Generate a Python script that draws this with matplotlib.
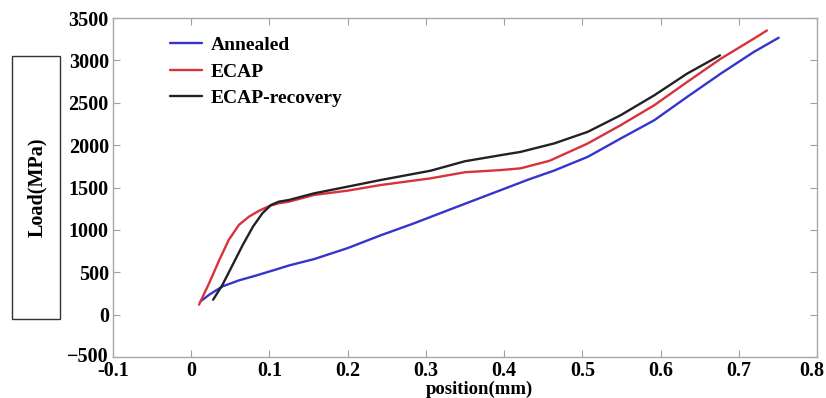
import matplotlib
matplotlib.use("Agg")
import matplotlib.pyplot as plt
import matplotlib.transforms as mtransforms
from matplotlib.patches import Rectangle

# ---- data ----
annealed_x = [0.012, 0.023, 0.040, 0.061, 0.082, 0.104, 0.125, 0.157, 0.200, 0.242, 0.285,
              0.332, 0.396, 0.430, 0.464, 0.507, 0.549, 0.592, 0.634, 0.677, 0.719, 0.751]
annealed_y = [157, 235, 333, 404, 459, 520, 580, 655, 785, 935, 1078,
              1245, 1470, 1590, 1700, 1862, 2078, 2294, 2569, 2844, 3098, 3267]

ecap_x = [0.010, 0.023, 0.036, 0.048, 0.061, 0.074, 0.087, 0.100, 0.112, 0.125, 0.157,
          0.200, 0.242, 0.306, 0.350, 0.396, 0.421, 0.458, 0.507, 0.549, 0.592, 0.634,
          0.677, 0.719, 0.736]
ecap_y = [118, 373, 647, 882, 1059, 1157, 1227, 1282, 1314, 1333, 1412,
          1463, 1529, 1608, 1680, 1706, 1726, 1815, 2020, 2235, 2471, 2745,
          3020, 3255, 3353]

rec_x = [0.028, 0.040, 0.053, 0.066, 0.079, 0.091, 0.102, 0.112, 0.125, 0.157, 0.200,
         0.242, 0.306, 0.350, 0.396, 0.421, 0.464, 0.507, 0.549, 0.592, 0.634, 0.676]
rec_y = [176, 353, 588, 824, 1039, 1196, 1294, 1333, 1353, 1431, 1510,
         1588, 1698, 1810, 1882, 1920, 2020, 2157, 2353, 2588, 2844, 3059]

series_labels = ["Annealed", "ECAP", "ECAP-recovery"]
x_ticks = [-0.1, 0, 0.1, 0.2, 0.3, 0.4, 0.5, 0.6, 0.7, 0.8]
x_ticklabels = ["-0.1", "0", "0.1", "0.2", "0.3", "0.4", "0.5", "0.6", "0.7", "0.8"]
y_ticks = [-500, 0, 500, 1000, 1500, 2000, 2500, 3000, 3500]

FONT = "Liberation Serif"
W, H = 826, 398
fig = plt.figure(figsize=(W / 100, H / 100), dpi=100)
ax = fig.add_axes([113 / W, 1 - 357 / H, (817 - 113) / W, (357 - 18) / H])

kw = dict(lw=1.7, solid_joinstyle="round", solid_capstyle="round")
ax.plot(annealed_x, annealed_y, color="#3535cc", label=series_labels[0], **kw)
ax.plot(ecap_x, ecap_y, color="#d8323a", label=series_labels[1], **kw)
ax.plot(rec_x, rec_y, color="#222222", label=series_labels[2], **kw)

ax.set_xlim(-0.1, 0.8)
ax.set_ylim(-500, 3500)
ax.set_xticks(x_ticks)
ax.set_xticklabels(x_ticklabels)
ax.set_yticks(y_ticks)
ax.tick_params(direction="in", length=5, width=0.8, color="#a0a0a0",
               top=True, right=True, labelsize=14.5, pad=3)
for lab in ax.get_xticklabels() + ax.get_yticklabels():
    lab.set_fontfamily(FONT)
    lab.set_fontweight("bold")
# keep the last x label inside the figure
last = ax.get_xticklabels()[-1]
last.set_transform(last.get_transform() +
                   mtransforms.ScaledTranslation(-5 / 100, 0, fig.dpi_scale_trans))
# lift the lowest y label a little off the corner
low = ax.get_yticklabels()[0]
low.set_transform(low.get_transform() +
                  mtransforms.ScaledTranslation(0, 3 / 100, fig.dpi_scale_trans))
for sp in ax.spines.values():
    sp.set_color("#a8a8a8")
    sp.set_linewidth(1.0)

ax.legend(loc="upper left", bbox_to_anchor=(0.081, 0.945), frameon=False,
          handlelength=1.65, handletextpad=0.45, borderpad=0, borderaxespad=0,
          labelspacing=0.45,
          prop={"family": FONT, "weight": "bold", "size": 14})

# x label
fig.text(479 / W, 1 - 389 / H, "position(mm)", ha="center", va="center",
         fontfamily=FONT, fontweight="bold", fontsize=13.5)

# y label inside a box
fig.patches.append(Rectangle((12 / W, 1 - 319 / H), 48 / W, (319 - 56) / H,
                             transform=fig.transFigure, fill=False,
                             edgecolor="#333333", lw=1.0))
fig.text(37 / W, 1 - 187 / H, "Load(MPa)", ha="center", va="center", rotation=90,
         fontfamily=FONT, fontweight="bold", fontsize=14.5)

fig.savefig("out.png", dpi=100)
